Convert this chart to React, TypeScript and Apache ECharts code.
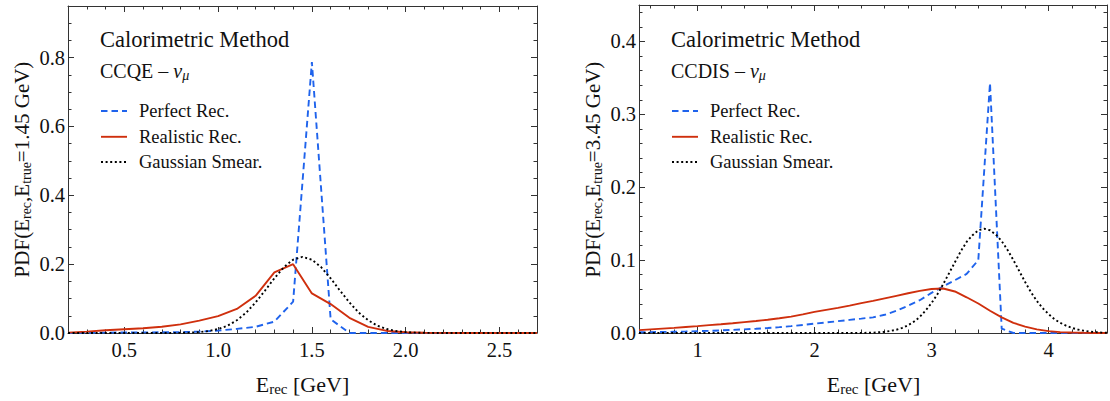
import React, { useEffect, useRef } from "react";
import * as echarts from "echarts";

// ---------------- data ----------------
// Left panel: CCQE, E_true = 1.45 GeV
const ccqeEnergy = [0.2, 0.3, 0.4, 0.5, 0.6, 0.7, 0.8, 0.9, 1.0, 1.1, 1.2, 1.3, 1.4, 1.5, 1.6, 1.7, 1.8, 1.9, 2.0, 2.1, 2.2, 2.3, 2.4, 2.5, 2.6, 2.7];
const ccqePerfect = [0, 0.0005, 0.001, 0.0015, 0.0018, 0.002, 0.0025, 0.004, 0.007, 0.012, 0.018, 0.033, 0.091, 0.787, 0.04, 0, 0, 0, 0, 0, 0, 0, 0, 0, 0, 0];
const ccqeRealistic = [0.001, 0.004, 0.008, 0.011, 0.014, 0.018, 0.025, 0.036, 0.049, 0.07, 0.108, 0.176, 0.2, 0.115, 0.084, 0.044, 0.018, 0.006, 0.002, 0.0007, 0.0003, 0.0001, 0, 0, 0, 0];
const ccqeGaussEnergy = [0.2, 0.75, 0.8, 0.85, 0.9, 0.95, 1.0, 1.05, 1.1, 1.15, 1.2, 1.25, 1.3, 1.35, 1.4, 1.45, 1.5, 1.55, 1.6, 1.65, 1.7, 1.75, 1.8, 1.85, 1.9, 1.95, 2.0, 2.05, 2.1, 2.15, 2.7];
const ccqeGauss = [0, 0.0002, 0.0005, 0.0011, 0.0027, 0.0057, 0.0115, 0.021, 0.037, 0.059, 0.089, 0.123, 0.159, 0.191, 0.213, 0.221, 0.213, 0.191, 0.159, 0.123, 0.089, 0.059, 0.037, 0.021, 0.0115, 0.0057, 0.0027, 0.0011, 0.0005, 0.0002, 0];

// Right panel: CCDIS, E_true = 3.45 GeV
const ccdisEnergy = [0.5, 0.6, 0.7, 0.8, 0.9, 1.0, 1.1, 1.2, 1.3, 1.4, 1.5, 1.6, 1.7, 1.8, 1.9, 2.0, 2.1, 2.2, 2.3, 2.4, 2.5, 2.6, 2.7, 2.8, 2.9, 3.0, 3.1, 3.2, 3.3, 3.4, 3.5, 3.6, 3.7, 3.8, 3.9, 4.0, 4.1, 4.2, 4.3, 4.4, 4.5];
const ccdisPerfect = [0.001, 0.0012, 0.0014, 0.0017, 0.002, 0.0025, 0.003, 0.0036, 0.0043, 0.005, 0.0058, 0.0068, 0.008, 0.0094, 0.011, 0.0128, 0.0145, 0.0162, 0.018, 0.0197, 0.0215, 0.025, 0.0305, 0.0375, 0.045, 0.055, 0.064, 0.0725, 0.081, 0.1, 0.343, 0.006, 0, 0, 0, 0, 0, 0, 0, 0, 0];
const ccdisRealistic = [0.004, 0.005, 0.006, 0.007, 0.0083, 0.0095, 0.0108, 0.012, 0.0134, 0.0149, 0.0164, 0.0182, 0.0202, 0.0225, 0.0256, 0.029, 0.0318, 0.0345, 0.0375, 0.041, 0.044, 0.0475, 0.051, 0.0545, 0.0578, 0.0603, 0.061, 0.057, 0.049, 0.0405, 0.0305, 0.0215, 0.014, 0.0088, 0.005, 0.0025, 0.0012, 0.0006, 0.0003, 0.0001, 0];
const ccdisGaussEnergy = [0.5, 2.4, 2.45, 2.5, 2.55, 2.6, 2.65, 2.7, 2.75, 2.8, 2.85, 2.9, 2.95, 3.0, 3.05, 3.1, 3.15, 3.2, 3.25, 3.3, 3.35, 3.4, 3.45, 3.5, 3.55, 3.6, 3.65, 3.7, 3.75, 3.8, 3.85, 3.9, 3.95, 4.0, 4.05, 4.1, 4.15, 4.2, 4.25, 4.3, 4.35, 4.4, 4.45, 4.5];
const ccdisGauss = [0, 0.0001, 0.0003, 0.0005, 0.001, 0.0017, 0.0028, 0.0045, 0.007, 0.0106, 0.0156, 0.022, 0.031, 0.041, 0.053, 0.067, 0.082, 0.097, 0.112, 0.125, 0.134, 0.141, 0.143, 0.141, 0.135, 0.126, 0.114, 0.1, 0.085, 0.07, 0.056, 0.044, 0.034, 0.026, 0.019, 0.014, 0.01, 0.007, 0.0048, 0.0032, 0.002, 0.0012, 0.0006, 0.0003];

// tick labels
const ccqeXTicks = [0.5, 1.0, 1.5, 2.0, 2.5];
const ccqeYTicks = [0, 0.2, 0.4, 0.6, 0.8];
const ccdisXTicks = [1, 2, 3, 4];
const ccdisYTicks = [0, 0.1, 0.2, 0.3, 0.4];

const legendLabels = ["Perfect Rec.", "Realistic Rec.", "Gaussian Smear."];
const panelTitle = "Calorimetric Method";
const processNames = ["CCQE", "CCDIS"];
const trueEnergies = ["1.45", "3.45"];

// ---------------- styles ----------------
const FONT = '"Liberation Serif", "Times New Roman", serif';
const BLUE = "#1f63ec";
const RED = "#cf2f0d";
const BLACK = "#000000";
const FRAME = "#333333";
const TXT = "#111111";

const seriesStyles = [
  { color: BLUE, width: 1.9, type: [6.5, 4] as number[] },
  { color: RED, width: 1.9, type: "solid" as any },
  { color: BLACK, width: 1.9, type: [2, 2.6] as number[] },
];

function zip(xs: number[], ys: number[]) {
  return xs.map((x, i) => [x, ys[i]]);
}

function inList(v: number, list: number[]) {
  return list.some((t) => Math.abs(t - v) < 1e-6);
}

function makeAxisBase(gridIndex: number, min: number, max: number, position: string, minorSplit: number, showLabel: boolean, ticks: number[], digits: number, margin: number) {
  return {
    type: "value",
    gridIndex,
    min,
    max,
    position,
    axisLine: { show: true, onZero: false, lineStyle: { color: FRAME, width: 1 } },
    axisTick: { show: true, inside: true, length: 6, lineStyle: { color: FRAME, width: 1 } },
    minorTick: { show: true, splitNumber: minorSplit, length: 3.5, lineStyle: { color: FRAME, width: 1 } },
    splitLine: { show: false },
    minorSplitLine: { show: false },
    axisLabel: {
      show: showLabel,
      margin,
      fontFamily: FONT,
      fontSize: 20.5,
      color: TXT,
      formatter: (v: number) => (inList(v, ticks) ? v.toFixed(digits) : ""),
    },
  };
}

function lineSeries(name: string, data: number[][], idx: number, axisIdx: number, smooth = false) {
  const s = seriesStyles[idx];
  return {
    name,
    type: "line",
    xAxisIndex: axisIdx,
    yAxisIndex: axisIdx,
    data,
    symbol: "none",
    showSymbol: false,
    smooth,
    lineStyle: { color: s.color, width: s.width, type: s.type },
    itemStyle: { color: s.color },
  };
}

function panelGraphics(dx: number, pIdx: number) {
  const els: any[] = [];
  els.push({
    type: "text",
    x: 100 + dx,
    y: 39,
    style: { text: panelTitle, fontFamily: FONT, fontSize: 22.5, fill: TXT, align: "left", verticalAlign: "middle" },
  });
  els.push({
    type: "text",
    x: 100 + dx,
    y: 71,
    style: {
      text: processNames[pIdx] + " \u2013 {it|\u03bd}{sub|\u03bc}",
      fontFamily: FONT,
      fontSize: 20,
      lineHeight: 23,
      fill: TXT,
      align: "left",
      verticalAlign: "middle",
      rich: {
        it: { fontFamily: FONT, fontSize: 20, fontStyle: "italic", fill: TXT, lineHeight: 23 },
        sub: { fontFamily: FONT, fontSize: 14, fontStyle: "italic", fill: TXT, lineHeight: 14, verticalAlign: "bottom" },
      },
    },
  });
  const legendY = [111, 136.8, 162];
  legendLabels.forEach((lab, i) => {
    const s = seriesStyles[i];
    els.push({
      type: "line",
      shape: { x1: 101 + dx, y1: legendY[i], x2: 127 + dx, y2: legendY[i] },
      style: { stroke: s.color, lineWidth: s.width, lineDash: Array.isArray(s.type) ? s.type : null },
    });
    els.push({
      type: "text",
      x: 139 + dx,
      y: legendY[i],
      style: { text: lab, fontFamily: FONT, fontSize: 18.5, fill: TXT, align: "left", verticalAlign: "middle" },
    });
  });
  // y axis title
  els.push({
    type: "text",
    x: 21.5 + dx,
    y: 169.5,
    rotation: Math.PI / 2,
    style: {
      text: "PDF(E{sub|rec},E{sub|true}=" + trueEnergies[pIdx] + " GeV)",
      fontFamily: FONT,
      fontSize: 21,
      lineHeight: 23,
      fill: TXT,
      align: "center",
      verticalAlign: "middle",
      rich: {
        sub: { fontFamily: FONT, fontSize: 14, fill: TXT, lineHeight: 14, verticalAlign: "bottom" },
      },
    },
  });
  // x axis title
  els.push({
    type: "text",
    x: 302.5 + dx,
    y: 384,
    style: {
      text: "E{sub|rec} [GeV]",
      fontFamily: FONT,
      fontSize: 22,
      lineHeight: 24,
      fill: TXT,
      align: "center",
      verticalAlign: "middle",
      rich: {
        sub: { fontFamily: FONT, fontSize: 15, fill: TXT, lineHeight: 15, verticalAlign: "bottom" },
      },
    },
  });
  return els;
}

export default function App() {
  const ref = useRef<HTMLDivElement | null>(null);

  useEffect(() => {
    if (!ref.current) return;
    const chart = echarts.init(ref.current, undefined, { renderer: "svg" });

    const xAxis = [
      { ...makeAxisBase(0, 0.2, 2.7, "bottom", 5, true, ccqeXTicks, 1, 6), splitNumber: 5 },
      { ...makeAxisBase(0, 0.2, 2.7, "top", 5, false, ccqeXTicks, 1, 6), splitNumber: 5 },
      { ...makeAxisBase(1, 0.5, 4.5, "bottom", 5, true, ccdisXTicks, 0, 6), splitNumber: 4 },
      { ...makeAxisBase(1, 0.5, 4.5, "top", 5, false, ccdisXTicks, 0, 6), splitNumber: 4 },
    ];
    const yAxis = [
      { ...makeAxisBase(0, 0, 0.95, "left", 4, true, ccqeYTicks, 1, 3), interval: 0.2 },
      { ...makeAxisBase(0, 0, 0.95, "right", 4, false, ccqeYTicks, 1, 3), interval: 0.2 },
      { ...makeAxisBase(1, 0, 0.45, "left", 5, true, ccdisYTicks, 1, 3), interval: 0.1 },
      { ...makeAxisBase(1, 0, 0.45, "right", 5, false, ccdisYTicks, 1, 3), interval: 0.1 },
    ];

    const option: any = {
      animation: false,
      backgroundColor: "#ffffff",
      grid: [
        { left: 68, top: 6, width: 469, height: 327 },
        { left: 639, top: 5, width: 469, height: 328 },
      ],
      xAxis,
      yAxis,
      series: [
        lineSeries(legendLabels[0], zip(ccqeEnergy, ccqePerfect), 0, 0),
        lineSeries(legendLabels[1], zip(ccqeEnergy, ccqeRealistic), 1, 0),
        lineSeries(legendLabels[2], zip(ccqeGaussEnergy, ccqeGauss), 2, 0),
        lineSeries(legendLabels[0], zip(ccdisEnergy, ccdisPerfect), 0, 2),
        lineSeries(legendLabels[1], zip(ccdisEnergy, ccdisRealistic), 1, 2),
        lineSeries(legendLabels[2], zip(ccdisGaussEnergy, ccdisGauss), 2, 2),
      ],
      graphic: [...panelGraphics(0, 0), ...panelGraphics(571, 1)],
    };
    chart.setOption(option);
    return () => {
      chart.dispose();
    };
  }, []);

  return (
    <div
      ref={ref}
      style={{ position: "absolute", left: 0, top: 0, width: 1110, height: 401, background: "#fff" }}
    />
  );
}
